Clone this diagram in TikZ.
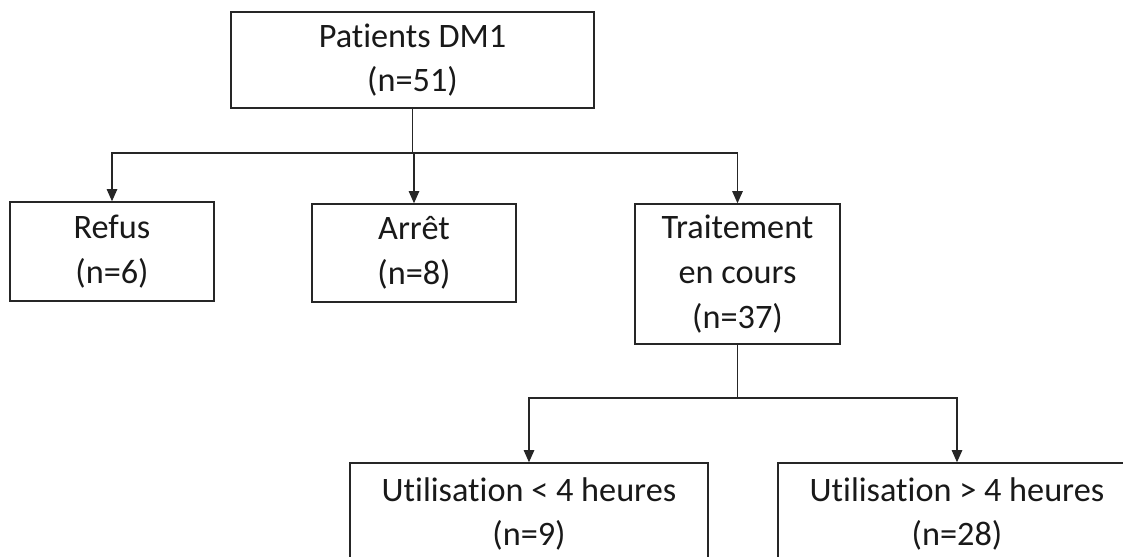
\documentclass[tikz,border=0pt]{standalone}
\usepackage{fontspec}
\setmainfont[Ligatures={NoCommon}]{Carlito}
\usetikzlibrary{
  arrows.meta,
}

\begin{document}
\begin{tikzpicture}[x=0.02cm, y=-0.02cm,
  box/.style={draw=black!85, line width=0.8pt, align=center, inner sep=0pt,
    font=\fontsize{19.5}{25.5}\selectfont, text=black!90},
  link/.style={draw=black!85, line width=0.8pt},
  arrow/.style={link, -{Triangle[length=7pt, width=6pt]}},
]
\useasboundingbox (0,0) rectangle (1123,556);
\clip (0,0) rectangle (1123,556);
% first level
\node[box, minimum width=7.26cm, minimum height=1.92cm] (patients) at (412.5,60) {Patients DM1\\(n=51)};
\node[box, minimum width=4.08cm, minimum height=1.98cm] (refus) at (112,251.5) {Refus\\(n=6)};
\node[box, minimum width=4.08cm, minimum height=1.96cm] (arret) at (414,253) {Arrêt\\(n=8)};
\node[box, minimum width=4.1cm, minimum height=2.8cm] (trait) at (737.5,274) {Traitement\\en cours\\(n=37)};
% second level
\node[box, minimum width=7.16cm, minimum height=2.04cm] (moins) at (529,514) {Utilisation < 4 heures\\(n=9)};
\node[box, minimum width=7.16cm, minimum height=2.04cm] (plus) at (957,514) {Utilisation > 4 heures\\(n=28)};
\coordinate (s1) at (patients.south |- 0,153);
\coordinate (s2) at (trait.south |- 0,398);
\draw[link] (patients.south) -- (s1);
\foreach \n in {refus,arret,trait}
  \draw[arrow] (s1) -| (\n.north);
\draw[link] (trait.south) -- (s2);
\foreach \n in {moins,plus}
  \draw[arrow] (s2) -| (\n.north);
\end{tikzpicture}
\end{document}
